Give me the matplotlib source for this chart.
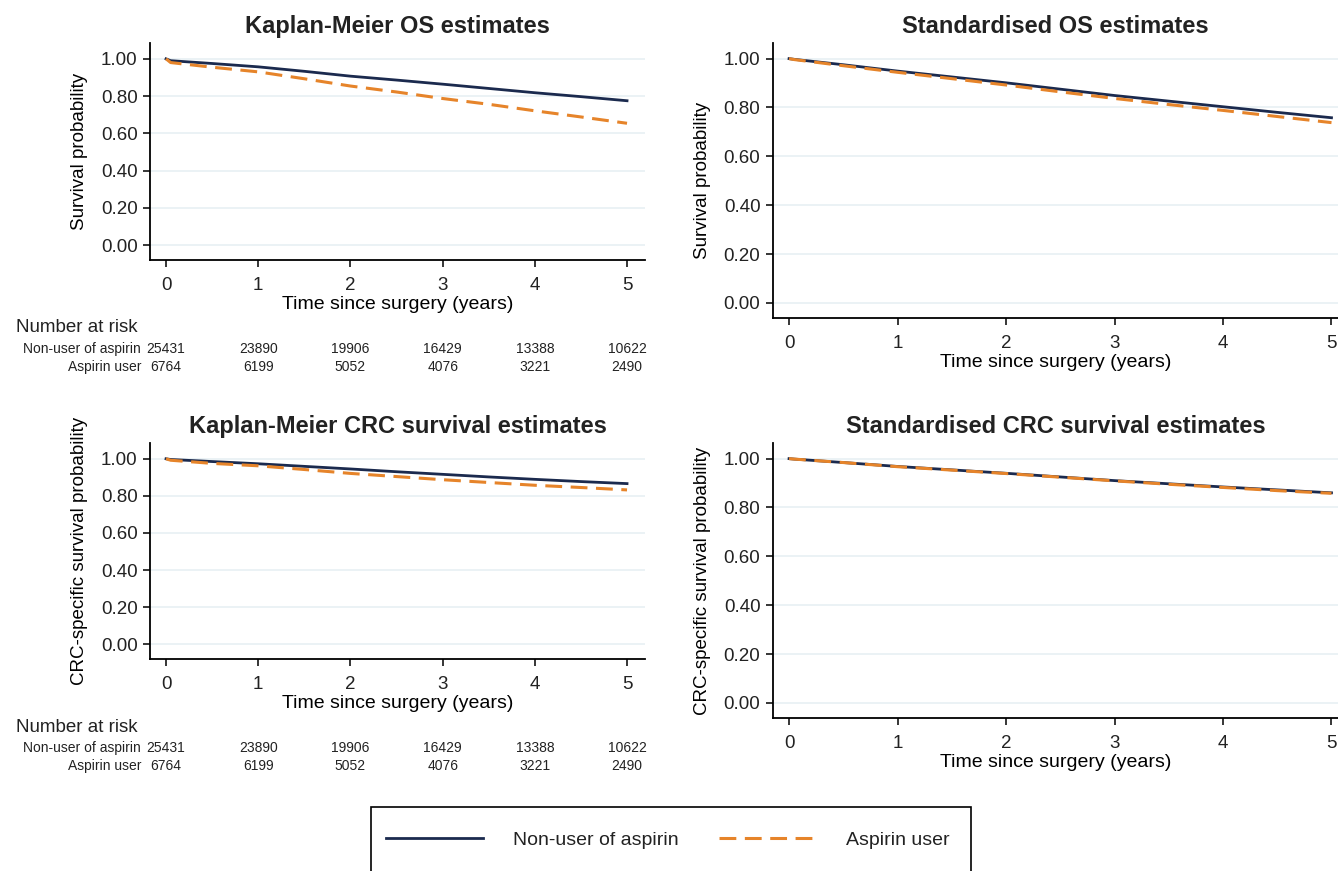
import matplotlib
matplotlib.use('Agg')
import matplotlib.pyplot as plt
from matplotlib import transforms
from matplotlib.patches import Rectangle

# --- data ---
years = [0, 0.05, 0.5, 1, 1.5, 2, 2.5, 3, 3.5, 4, 4.5, 5]

km_os_non = [1.00, 0.990, 0.975, 0.957, 0.933, 0.907, 0.886, 0.864, 0.841, 0.818, 0.797, 0.775]
km_os_asp = [1.00, 0.980, 0.955, 0.930, 0.893, 0.854, 0.822, 0.787, 0.756, 0.721, 0.688, 0.654]

std_os_non = [1.00, 0.997, 0.975, 0.949, 0.925, 0.901, 0.875, 0.849, 0.826, 0.803, 0.780, 0.758]
std_os_asp = [1.00, 0.996, 0.971, 0.944, 0.918, 0.892, 0.864, 0.837, 0.812, 0.788, 0.763, 0.738]

km_crc_non = [1.00, 0.996, 0.985, 0.973, 0.959, 0.945, 0.930, 0.916, 0.902, 0.889, 0.877, 0.866]
km_crc_asp = [1.00, 0.992, 0.975, 0.962, 0.942, 0.921, 0.904, 0.887, 0.872, 0.857, 0.845, 0.832]

std_crc_non = [1.00, 0.998, 0.984, 0.968, 0.954, 0.940, 0.925, 0.910, 0.897, 0.884, 0.872, 0.860]
std_crc_asp = [1.00, 0.998, 0.984, 0.967, 0.953, 0.939, 0.924, 0.909, 0.895, 0.882, 0.869, 0.858]

risk_times = [0, 1, 2, 3, 4, 5]
risk_non = [25431, 23890, 19906, 16429, 13388, 10622]
risk_asp = [6764, 6199, 5052, 4076, 3221, 2490]

group_labels = ['Non-user of aspirin', 'Aspirin user']
NAVY = '#1b2a4e'
ORANGE = '#e6842a'
GRID = '#e8f0f3'
TXT = '#222222'

W, H = 1338, 871

plt.rcParams['font.family'] = ['Liberation Sans', 'DejaVu Sans']
plt.rcParams['text.color'] = TXT
plt.rcParams['xtick.labelcolor'] = TXT
plt.rcParams['ytick.labelcolor'] = TXT


def box(left, top, right, bottom):
    return [left / W, 1 - bottom / H, (right - left) / W, (bottom - top) / H]


fig = plt.figure(figsize=(W / 100, H / 100), dpi=100)

panels = [
    (box(150, 43, 645, 260), (-0.174, 5.195), (-0.08, 1.085), 'Kaplan-Meier OS estimates',
     'Survival probability', km_os_non, km_os_asp, True),
    (box(773, 43, 1338, 318), (-0.148, 5.06), (-0.062, 1.064), 'Standardised OS estimates',
     'Survival probability', std_os_non, std_os_asp, False),
    (box(150, 443, 645, 659), (-0.174, 5.195), (-0.08, 1.085), 'Kaplan-Meier CRC survival estimates',
     'CRC-specific survival probability', km_crc_non, km_crc_asp, True),
    (box(773, 443, 1338, 718), (-0.148, 5.06), (-0.062, 1.064), 'Standardised CRC survival estimates',
     'CRC-specific survival probability', std_crc_non, std_crc_asp, False),
]

handles = None
for rect, xl, yl, title, ylabel, non, asp, risk in panels:
    ax = fig.add_axes(rect)
    ax.set_xlim(*xl)
    ax.set_ylim(*yl)
    for s in ['top', 'right']:
        ax.spines[s].set_visible(False)
    for s in ['left', 'bottom']:
        ax.spines[s].set_linewidth(1.3)
    yt = [0, 0.2, 0.4, 0.6, 0.8, 1.0]
    ax.set_yticks(yt)
    ax.set_yticklabels(['%.2f' % v for v in yt])
    ax.set_xticks(risk_times)
    for v in yt:
        ax.axhline(v, color=GRID, lw=1.2, zorder=0)
    ax.tick_params(axis='both', length=5, width=1.1, labelsize=13.5, pad=4)
    ax.tick_params(axis='x', pad=7)
    h1, = ax.plot(years, non, color=NAVY, lw=2.0, zorder=3)
    h2, = ax.plot(years, asp, color=ORANGE, lw=2.2, dashes=(5.5, 2.8), zorder=4)
    handles = [h1, h2]
    ax.set_title(title, fontsize=17, fontweight='bold', pad=7)
    ax.set_ylabel(ylabel, fontsize=13.5, labelpad=9)
    ax.set_xlabel('Time since surgery (years)', fontsize=14, labelpad=2)

    if risk:
        base = (1 - rect[1]) * H  # bottom of axes in pixels from top
        tr = transforms.blended_transform_factory(ax.transData, fig.transFigure)
        fig.text(16 / W, 1 - (base + 68) / H, 'Number at risk', fontsize=13.5, va='center', ha='left')
        for row, (lab, vals) in enumerate(zip(group_labels, [risk_non, risk_asp])):
            ypx = base + 89 + row * 18
            ax.text(-0.27, 1 - ypx / H, lab, transform=tr, fontsize=10, ha='right', va='center')
            for t, n in zip(risk_times, vals):
                ax.text(t, 1 - ypx / H, str(n), transform=tr, fontsize=10, ha='center', va='center')

# legend frame drawn separately so its height matches the reference
fig.patches.append(Rectangle((371 / W, 1 - 873 / H), 600 / W, 66 / H, transform=fig.transFigure,
                             fill=False, edgecolor='black', linewidth=1.2))
fig.legend(handles, group_labels, loc='center', bbox_to_anchor=(668 / W, 1 - 840 / H),
           ncol=2, frameon=False, handlelength=5.0, handletextpad=1.55, columnspacing=2.05,
           fontsize=14)

fig.savefig('out.png', dpi=100)
